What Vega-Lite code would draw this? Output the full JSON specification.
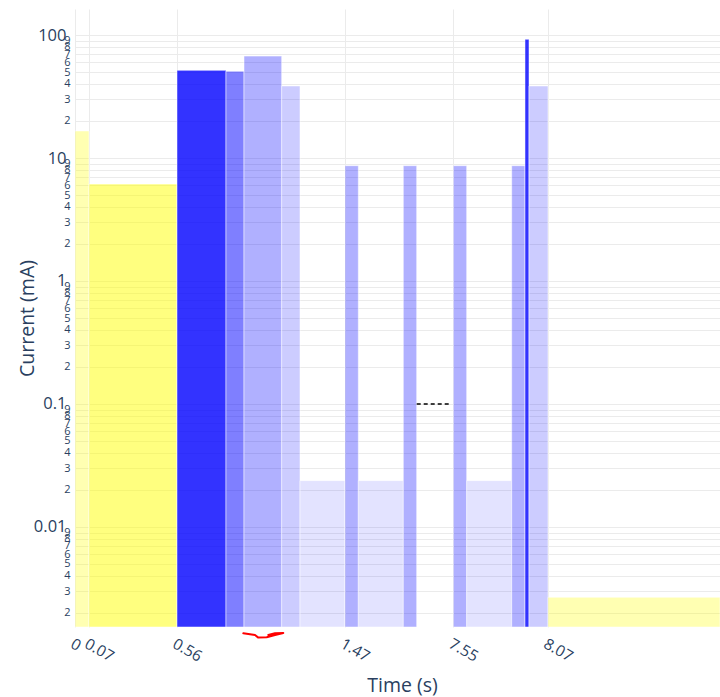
{
  "$schema": "https://vega.github.io/schema/vega-lite/v6.json",
  "width": 645,
  "height": 618,
  "autosize": "none",
  "padding": {"left": 75, "top": 9, "right": 0, "bottom": 70},
  "config": {"view": {"stroke": null}, "font": "Open Sans"},
  "layer": [
    {
      "data": {"values": [
        {"x0": 0, "x1": 0.0765, "current": 16.6, "phase": "wake"},
        {"x0": 0.0765, "x1": 0.5574, "current": 6.14, "phase": "standby"},
        {"x0": 0.5574, "x1": 0.8251, "current": 51.6, "phase": "tx"},
        {"x0": 0.8251, "x1": 0.9235, "current": 50.7, "phase": "tx-tail"},
        {"x0": 0.9235, "x1": 1.1295, "current": 67.4, "phase": "rx"},
        {"x0": 1.1295, "x1": 1.2295, "current": 38.5, "phase": "process"},
        {"x0": 1.2295, "x1": 1.4754, "current": 0.0238, "phase": "idle"},
        {"x0": 1.4754, "x1": 1.5482, "current": 8.66, "phase": "rx"},
        {"x0": 1.5482, "x1": 1.794, "current": 0.0238, "phase": "idle"},
        {"x0": 1.794, "x1": 1.8672, "current": 8.66, "phase": "rx"},
        {"x0": 2.0674, "x1": 2.1404, "current": 8.66, "phase": "rx"},
        {"x0": 2.1404, "x1": 2.3863, "current": 0.0238, "phase": "idle"},
        {"x0": 2.3863, "x1": 2.459, "current": 8.66, "phase": "rx"},
        {"x0": 2.459, "x1": 2.4809, "current": 92.3, "phase": "tx"},
        {"x0": 2.4809, "x1": 2.5847, "current": 38.5, "phase": "process"},
        {"x0": 2.5847, "x1": 3.5246, "current": 0.00268, "phase": "wake"}
      ]},
      "mark": {"type": "rect", "stroke": "white", "strokeWidth": 0.5},
      "encoding": {
        "x": {
          "field": "x0", "type": "quantitative",
          "scale": {"domain": [0, 3.5246], "nice": false, "zero": false},
          "axis": {
            "values": [0, 0.0765, 0.5574, 1.4754, 2.0674, 2.5847],
            "labelExpr": "datum.value < 0.01 ? '0' : datum.value < 0.2 ? '0.07' : datum.value < 1 ? '0.56' : datum.value < 2 ? '1.47' : datum.value < 2.3 ? '7.55' : '8.07'",
            "title": "Time (s)",
            "grid": true, "gridColor": "#ebebeb", "gridWidth": 1,
            "domain": false, "ticks": false,
            "labelAngle": 30, "labelAlign": "left", "labelBaseline": "top",
            "labelPadding": 9, "labelFontSize": 15.5, "labelColor": "#2a3f5f",
            "labelFont": "Open Sans",
            "labelOverlap": false, "labelBound": false, "labelFlush": false,
            "titleFont": "Open Sans", "titleFontSize": 19.5, "titleFontWeight": "normal",
            "titleColor": "#2a3f5f", "titleX": 327, "titleY": 58, "titleBaseline": "middle"
          }
        },
        "x2": {"field": "x1"},
        "y": {
          "field": "current", "type": "quantitative",
          "scale": {"type": "log", "domain": [0.001536, 162.8], "nice": false},
          "axis": {
            "values": [0.002, 0.003, 0.004, 0.005, 0.006, 0.007, 0.008, 0.009, 0.01, 0.02, 0.03, 0.04, 0.05, 0.06, 0.07, 0.08, 0.09, 0.1, 0.2, 0.3, 0.4, 0.5, 0.6, 0.7, 0.8, 0.9, 1, 2, 3, 4, 5, 6, 7, 8, 9, 10, 20, 30, 40, 50, 60, 70, 80, 90, 100],
            "labelExpr": "abs(log(datum.value)/LN10 - round(log(datum.value)/LN10)) < 0.001 ? format(datum.value, '~g') : format(round(datum.value / pow(10, floor(log(datum.value)/LN10 + 1e-9))), 'd')",
            "title": "Current (mA)",
            "grid": true, "gridColor": "#ebebeb", "gridWidth": 1,
            "domain": false, "ticks": false,
            "labelOverlap": false, "labelBound": false, "labelFlush": false,
            "labelColor": "#2a3f5f", "labelFont": "Open Sans", "labelBaseline": "middle",
            "labelFontSize": {"condition": {"test": "abs(log(datum.value)/LN10 - round(log(datum.value)/LN10)) < 0.001", "value": 16.5}, "value": 11},
            "labelPadding": {"condition": {"test": "abs(log(datum.value)/LN10 - round(log(datum.value)/LN10)) < 0.001", "value": 9}, "value": 5},
            "titleFont": "Open Sans", "titleFontSize": 19.5, "titleFontWeight": "normal",
            "titleColor": "#2a3f5f", "titleX": -48, "titleY": 309, "titleBaseline": "middle", "titleAngle": -90
          }
        },
        "y2": {"datum": 0.001536},
        "color": {
          "field": "phase", "type": "nominal", "legend": null,
          "scale": {
            "domain": ["wake", "standby", "tx", "tx-tail", "rx", "process", "idle"],
            "range": ["rgba(255,255,0,0.3)", "rgba(255,255,0,0.5)", "rgba(0,0,255,0.8)", "rgba(0,0,255,0.5)", "rgba(0,0,255,0.31)", "rgba(0,0,255,0.2)", "rgba(0,0,255,0.11)"]
          }
        }
      }
    },
    {
      "data": {"values": [{"x0": 1.8672, "x1": 2.0585, "current": 0.1}]},
      "mark": {"type": "rule", "color": "black", "strokeWidth": 1.5, "strokeDash": [4, 3]},
      "encoding": {
        "x": {"field": "x0", "type": "quantitative"},
        "x2": {"field": "x1"},
        "y": {"field": "current", "type": "quantitative"}
      }
    },
    {
      "data": {"values": [
        {"seq": 1, "x0": 0.9197, "current": 0.001365},
        {"seq": 2, "x0": 0.9836, "current": 0.001322},
        {"seq": 3, "x0": 1.0016, "current": 0.001259},
        {"seq": 4, "x0": 1.0475, "current": 0.001266},
        {"seq": 5, "x0": 1.0929, "current": 0.001322},
        {"seq": 6, "x0": 1.1383, "current": 0.001373},
        {"seq": 7, "x0": 1.0929, "current": 0.001365},
        {"seq": 8, "x0": 1.0563, "current": 0.001322}
      ]},
      "mark": {"type": "line", "color": "#ff0000", "strokeWidth": 2, "strokeCap": "round", "strokeJoin": "round"},
      "encoding": {
        "x": {"field": "x0", "type": "quantitative"},
        "y": {"field": "current", "type": "quantitative"},
        "order": {"field": "seq", "type": "quantitative"}
      }
    }
  ]
}
